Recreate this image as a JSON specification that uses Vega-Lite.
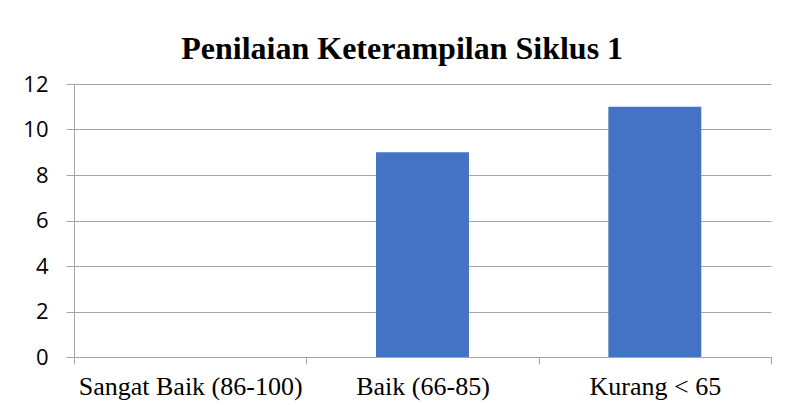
{
  "$schema": "https://vega.github.io/schema/vega-lite/v6.json",
  "width": 697,
  "height": 273,
  "autosize": {"type": "none"},
  "padding": {"left": 74, "top": 84, "right": 14, "bottom": 48},
  "background": "white",
  "title": {
    "text": "Penilaian Keterampilan Siklus 1",
    "font": "Liberation Serif",
    "fontSize": 32,
    "fontWeight": "bold",
    "color": "black",
    "anchor": "middle",
    "frame": "bounds",
    "baseline": "alphabetic",
    "offset": -18,
    "dx": 5
  },
  "data": {
    "values": [
      {"kategori": "Sangat Baik (86-100)", "jumlah": 0},
      {"kategori": "Baik (66-85)", "jumlah": 9},
      {"kategori": "Kurang < 65", "jumlah": 11}
    ]
  },
  "mark": {"type": "bar", "color": "#4472C4", "width": {"band": 0.4}},
  "encoding": {
    "x": {
      "field": "kategori",
      "type": "nominal",
      "sort": null,
      "scale": {"paddingInner": 0, "paddingOuter": 0},
      "axis": {
        "title": null,
        "labelAngle": 0,
        "labelFont": "Liberation Serif",
        "labelFontSize": 26,
        "labelColor": "black",
        "labelPadding": 9,
        "labelLimit": 0,
        "tickBand": "extent",
        "tickSize": 7,
        "tickColor": "#a6a6a6",
        "domainColor": "#a6a6a6",
        "grid": false
      }
    },
    "y": {
      "field": "jumlah",
      "type": "quantitative",
      "scale": {"domain": [0, 12], "nice": false},
      "axis": {
        "title": null,
        "values": [0, 2, 4, 6, 8, 10, 12],
        "labelFont": "Open Sans",
        "labelFontSize": 22,
        "labelColor": "black",
        "labelPadding": 18,
        "tickSize": 8,
        "tickColor": "#a6a6a6",
        "domainColor": "#a6a6a6",
        "gridColor": "#a6a6a6",
        "grid": true
      }
    }
  },
  "config": {"view": {"stroke": null}}
}
